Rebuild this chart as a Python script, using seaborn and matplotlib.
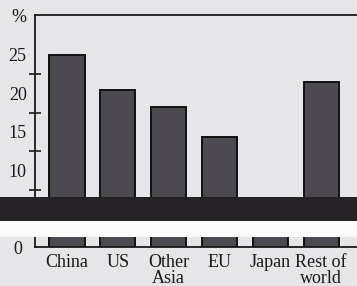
import matplotlib
matplotlib.use("Agg")
import matplotlib.pyplot as plt
import seaborn as sns
import pandas as pd
from matplotlib.patches import Rectangle

categories = ["China", "US", "Other\nAsia", "EU", "Japan", "Rest of\nworld"]
values = [25.0, 20.4, 18.2, 14.3, 5.0, 21.5]
ytick_values = [10, 15, 20, 25]
ytick_labels = ["10", "15", "20", "25"]
minor_ticks = [7.5, 12.5, 17.5, 22.5]

df = pd.DataFrame({"region": categories, "share": values})

sns.set_style("white")
plt.rcParams["font.family"] = ["Liberation Serif", "DejaVu Serif"]

W, H = 357, 286
fig = plt.figure(figsize=(W / 100, H / 100), dpi=100)
bg = "#e5e5ea"
fig.patch.set_facecolor(bg)

def fx(px):
    return px / W

def fy(py):
    return 1 - py / H

left_px, right_px = 35, 367
ax_up = fig.add_axes([fx(left_px), fy(221), fx(right_px - left_px), fy(15) - fy(221)])
ax_lo = fig.add_axes([fx(left_px), fy(247), fx(right_px - left_px), fy(237) - fy(247)])

bar_color = "#4c4950"
for ax in (ax_up, ax_lo):
    sns.barplot(data=df, x="region", y="share", ax=ax, color=bar_color,
                edgecolor="#111111", linewidth=1.4, width=0.69, saturation=1)
    ax.set_facecolor(bg)
    ax.set_xlim(-0.63, 5.9)
    ax.set_xlabel("")
    ax.set_ylabel("")
    for s in ax.spines.values():
        s.set_color("#1a1a1a")
        s.set_linewidth(1.3)

# Upper panel
ax_up.set_ylim(3.44, 30.19)
ax_up.spines["bottom"].set_visible(False)
ax_up.spines["right"].set_visible(False)
ax_up.set_xticks([])
ax_up.set_yticks(ytick_values)
ax_up.set_yticklabels(ytick_labels, fontsize=13, color="#1a1a1a")
ax_up.tick_params(axis="y", which="major", left=True, length=0, pad=6)
ax_up.set_yticks(minor_ticks, minor=True)
ax_up.tick_params(axis="y", which="minor", left=True, direction="inout", length=8,
                  width=1.2, color="#1a1a1a")

# Lower panel
ax_lo.set_ylim(0, 1.3)
ax_lo.spines["top"].set_visible(False)
ax_lo.spines["right"].set_visible(False)
ax_lo.set_yticks([0])
ax_lo.set_yticklabels(["0"], fontsize=13, color="#1a1a1a")
ax_lo.tick_params(axis="y", length=0, pad=9)
ax_lo.set_xticks(range(len(categories)))
ax_lo.set_xticklabels(categories, fontsize=13, color="#1a1a1a", linespacing=0.95)
ax_lo.tick_params(axis="x", length=0, pad=5)

# Axis break band
fig.patches.append(Rectangle((0, fy(221)), 1, fy(197) - fy(221), transform=fig.transFigure,
                             facecolor="#242224", edgecolor="none", zorder=5))
fig.patches.append(Rectangle((0, fy(237)), 1, fy(221) - fy(237), transform=fig.transFigure,
                             facecolor="#fbfbfb", edgecolor="none", zorder=5))

fig.text(fx(19), fy(17), "%", fontsize=13, ha="center", va="center", color="#1a1a1a")

fig.savefig("out.png", dpi=100, facecolor=bg)
